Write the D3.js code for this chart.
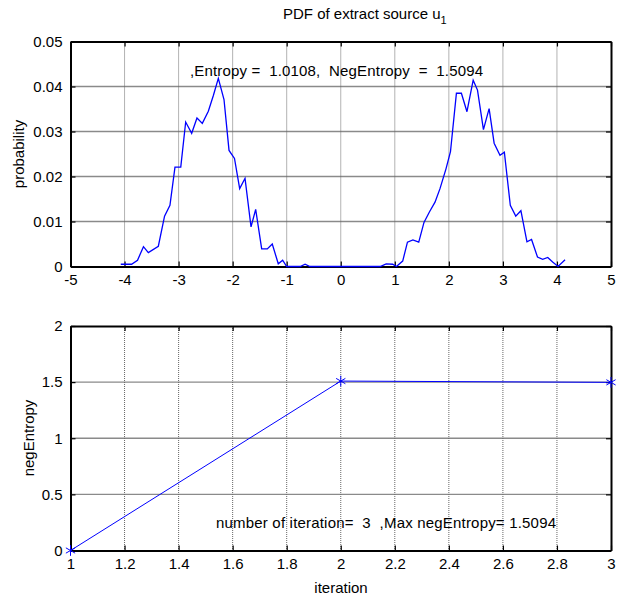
<!DOCTYPE html>
<html><head><meta charset="utf-8">
<script src="https://cdn.jsdelivr.net/npm/d3@7/dist/d3.min.js"></script>
<style>
html,body{margin:0;padding:0;background:#fff;}
text{font-family:"Liberation Sans",Arial,sans-serif;fill:#000;}
</style></head>
<body><svg id="c" width="624" height="596"></svg>
<script>
// ---- data ----
const pdfX = [-4.07,-3.87,-3.76,-3.65,-3.56,-3.375,-3.26,-3.16,-3.067,-2.96,-2.869,-2.758,-2.66,-2.561,-2.45,-2.357,-2.265,-2.16,-2.067,-1.966,-1.87,-1.771,-1.66,-1.574,-1.463,-1.359,-1.267,-1.156,-1.075,-1.0,-0.75,-0.66,-0.57,0.73,0.84,0.96,1.03,1.146,1.234,1.335,1.443,1.54,1.64,1.744,1.836,1.947,2.03,2.14,2.232,2.335,2.45,2.53,2.64,2.745,2.838,2.946,3.027,3.137,3.238,3.333,3.445,3.53,3.64,3.736,3.83,3.92,4.02,4.15];
const pdfY = [0.0005,0.0005,0.0014,0.0044,0.0031,0.0045,0.0112,0.0136,0.0221,0.0221,0.0321,0.0296,0.0330,0.0318,0.0345,0.0380,0.0418,0.0371,0.0258,0.0240,0.0173,0.0196,0.0088,0.0127,0.0039,0.0039,0.0050,0.0006,0.0014,0,0,0.0005,0,0,0.0006,0.0005,0,0.0012,0.0054,0.0059,0.0054,0.0098,0.0121,0.0143,0.0173,0.0217,0.0255,0.0385,0.0385,0.0344,0.0414,0.0392,0.0304,0.0351,0.0274,0.0247,0.0254,0.0136,0.0112,0.0124,0.0055,0.0060,0.0021,0.0016,0.0020,0.0010,0,0.0015];
const pdfXTicks = [-5,-4,-3,-2,-1,0,1,2,3,4,5];
const pdfYTicks = [0,0.01,0.02,0.03,0.04,0.05];
const iterX = [1,2,3];
const negE = [0,1.5094,1.498];
const iterXTicks = [1,1.2,1.4,1.6,1.8,2,2.2,2.4,2.6,2.8,3];
const iterYTicks = [0,0.5,1,1.5,2];
const titleText = "PDF of extract source u";
const titleSub = "1";
const topNote = ",Entropy =  1.0108,  NegEntropy  =  1.5094";
const bottomNote = "number of iteration=  3  ,Max negEntropy= 1.5094";

const svg = d3.select("#c");
svg.append("rect").attr("width",624).attr("height",596).attr("fill","#fff");
const L = 70.5, R = 611, FS = 15;

function panel(xDom, yDom, top, bottom, xTicks, yTicks, xFmt, yFmt){
  const x = d3.scaleLinear().domain(xDom).range([L,R]);
  const y = d3.scaleLinear().domain(yDom).range([bottom,top]);
  const g = svg.append("g");
  g.selectAll(".hg").data(yTicks.slice(1,-1)).join("line")
    .attr("x1",L).attr("x2",R).attr("y1",d=>y(d)).attr("y2",d=>y(d))
    .attr("stroke","#8a8a8a").attr("stroke-width",1.4);
  g.selectAll(".vg").data(xTicks.slice(1,-1)).join("line")
    .attr("y1",top).attr("y2",bottom).attr("x1",d=>x(d)).attr("x2",d=>x(d))
    .attr("stroke","#666").attr("stroke-width",1).attr("stroke-dasharray","1,1");
  const xb = g.append("g").attr("transform",`translate(0,${bottom})`)
    .call(d3.axisBottom(x).tickValues(xTicks).tickFormat(xFmt).tickSizeInner(-5).tickSizeOuter(0).tickPadding(8));
  const xt = g.append("g").attr("transform",`translate(0,${top})`)
    .call(d3.axisTop(x).tickValues(xTicks).tickFormat("").tickSizeInner(-5).tickSizeOuter(0));
  const yl = g.append("g").attr("transform",`translate(${L},0)`)
    .call(d3.axisLeft(y).tickValues(yTicks).tickFormat(yFmt).tickSizeInner(-5).tickSizeOuter(0).tickPadding(8));
  const yr = g.append("g").attr("transform",`translate(${R},0)`)
    .call(d3.axisRight(y).tickValues(yTicks).tickFormat("").tickSizeInner(-5).tickSizeOuter(0));
  [xb,xt,yl,yr].forEach(a=>{
    a.select(".domain").attr("stroke","#000").attr("stroke-width",2);
    a.selectAll(".tick line").attr("stroke","#000").attr("stroke-width",1.2);
    a.selectAll("text").attr("font-size",FS).attr("font-family","Liberation Sans, Arial, sans-serif").attr("fill","#000");
  });
  return {x,y,g};
}

// ---- top panel ----
const p1 = panel([-5,5],[0,0.05],41.5,266.5,pdfXTicks,pdfYTicks,d=>String(d),d=>String(d));
p1.g.append("path").datum(pdfX.map((d,i)=>[d,pdfY[i]]))
  .attr("d",d3.line().x(d=>p1.x(d[0])).y(d=>p1.y(d[1])))
  .attr("fill","none").attr("stroke","#0000ff").attr("stroke-width",1.3);
p1.g.append("text").attr("x",190).attr("y",76).attr("font-size",FS)
  .attr("textLength",293).attr("lengthAdjust","spacing")
  .style("white-space","pre").text(topNote);
const t = svg.append("text").attr("x",283).attr("y",19).attr("font-size",FS);
t.append("tspan").text(titleText);
t.append("tspan").attr("dy",5).attr("font-size",11).text(titleSub);
svg.append("text").attr("transform","translate(24,154) rotate(-90)").attr("text-anchor","middle")
  .attr("font-size",FS).text("probability");

// ---- bottom panel ----
const p2 = panel([1,3],[0,2],326,550.5,iterXTicks,iterYTicks,d=>String(d),d=>String(d));
p2.g.append("path").datum(iterX.map((d,i)=>[d,negE[i]]))
  .attr("d",d3.line().x(d=>p2.x(d[0])).y(d=>p2.y(d[1])))
  .attr("fill","none").attr("stroke","#0000ff").attr("stroke-width",1);
p2.g.selectAll(".mk").data(iterX.map((d,i)=>[d,negE[i]])).join("path")
  .attr("transform",d=>`translate(${p2.x(d[0])},${p2.y(d[1])})`)
  .attr("d",d3.symbol(d3.symbolAsterisk,80)())
  .attr("fill","none").attr("stroke","#0000ff").attr("stroke-width",1);
p2.g.append("text").attr("x",216).attr("y",528).attr("font-size",FS)
  .attr("textLength",340).attr("lengthAdjust","spacing")
  .style("white-space","pre").text(bottomNote);
svg.append("text").attr("transform","translate(34,438) rotate(-90)").attr("text-anchor","middle")
  .attr("font-size",FS).text("negEntropy");
svg.append("text").attr("x",341).attr("y",593).attr("text-anchor","middle")
  .attr("font-size",FS).text("iteration");
</script></body></html>
